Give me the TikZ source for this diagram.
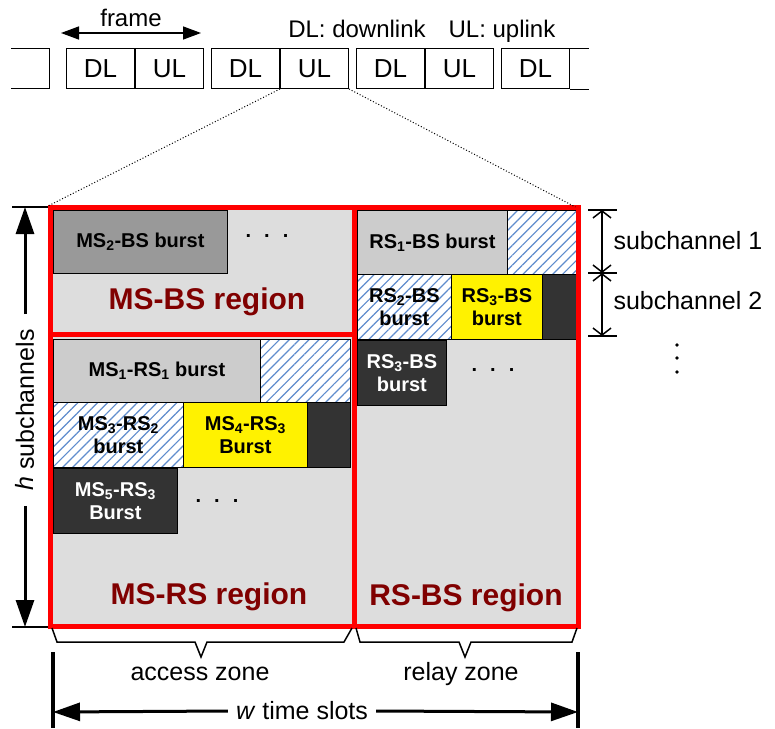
\documentclass[tikz,border=0pt]{standalone}
\usepackage{fontspec}
\setmainfont{Liberation Sans}
\usetikzlibrary{arrows.meta,patterns.meta}

\definecolor{regiongray}{HTML}{DDDDDD}
\definecolor{lightburst}{HTML}{CCCCCC}
\definecolor{midburst}{HTML}{999999}
\definecolor{darkburst}{HTML}{333333}
\definecolor{hatchblue}{RGB}{95,140,205}
\definecolor{regionred}{HTML}{800000}

\begin{document}
\begin{tikzpicture}[x=1pt,y=-1pt]
    \tikzstyle{cell}=[draw,line width=1pt,minimum width=68pt,minimum height=40pt,anchor=north west,inner sep=0pt,font=\fontsize{26}{28}\selectfont]
    \tikzstyle{region}=[fill=regiongray,anchor=north west,inner sep=0pt]
    \tikzstyle{redline}=[draw=red,line width=5pt]
    \tikzstyle{burst}=[draw=black,line width=0.8pt,anchor=north west,inner sep=0pt,align=center,font=\bfseries\fontsize{20}{23}\selectfont]
    \tikzstyle{light burst}=[burst,fill=lightburst]
    \tikzstyle{mid burst}=[burst,fill=midburst]
    \tikzstyle{dark burst}=[burst,fill=darkburst,text=white]
    \tikzstyle{yellow burst}=[burst,fill=yellow]
    \tikzstyle{hatch burst}=[burst,preaction={fill=white},pattern={Lines[angle=45,distance=7pt,line width=1.2pt]},pattern color=hatchblue]
    \tikzstyle{regionlabel}=[text=regionred,font=\bfseries\fontsize{30}{32}\selectfont]
    \tikzstyle{dots}=[font=\bfseries\fontsize{20}{23}\selectfont]
    \tikzstyle{vdot}=[circle,fill=black,inner sep=0pt,minimum size=3.6pt]
    \tikzstyle{annot}=[font=\fontsize{25}{27}\selectfont]
    \tikzstyle{bigarrow}=[line width=3pt,-{Triangle[length=27pt,width=18pt]}]
    \tikzstyle{zonebrace}=[line width=1.5pt,line join=miter]

    \useasboundingbox (0,0) rectangle (775,728);

    % Frame row
    \foreach \i/\x in {1/66,2/211,3/356,4/501}
        \node[cell] (DL-\i) at (\x,48) {DL};
    \foreach \i in {1,2,3}
        \node[cell,anchor=north west] (UL-\i) at (DL-\i.north east) {UL};
    \draw[line width=1pt] (11,48) -- (49,48) -- (49,88) -- (11,88);
    \draw[line width=1pt] (DL-4.north east) -- ++(19,0);
    \draw[line width=1pt] (DL-4.south east) -- ++(19,0);

    \coordinate (fl) at (61,33);
    \coordinate (fr) at (201,33);
    \draw[line width=1.5pt,{Triangle[length=18pt,width=13pt]}-{Triangle[length=18pt,width=13pt]}] (fl) -- (fr);
    \node[font=\fontsize{24}{26}\selectfont,anchor=base] (frame) at (131,26) {frame};
    \node[font=\fontsize{24}{26}\selectfont,anchor=base] (dlkey) at (357,37) {DL: downlink};
    \node[font=\fontsize{24}{26}\selectfont,anchor=base] (ulkey) at (502,37) {UL: uplink};

    % Regions
    \node[region,minimum width=304pt,minimum height=127pt] (msbs) at (50,207) {};
    \node[region,minimum width=304pt,minimum height=292pt] (msrs) at (50,334) {};
    \node[region,minimum width=224pt,minimum height=419pt] (rsbs) at (354,207) {};

    % MS-BS bursts
    \node[mid burst,minimum width=174pt,minimum height=63pt] (ms2bs) at (53,210) {MS\textsubscript{2}-BS burst};
    \node[dots] (dots1) at (267,236) {.\hspace{13pt}.\hspace{13pt}.};
    \node[regionlabel] (msbslabel) at (207,302) {MS-BS region};

    % MS-RS bursts
    \node[light burst,minimum width=207pt,minimum height=63pt] (ms1rs1) at (53,339) {MS\textsubscript{1}-RS\textsubscript{1} burst};
    \node[hatch burst,minimum width=90pt,minimum height=63pt] (hatch1) at (260,339) {};
    \node[hatch burst,minimum width=130pt,minimum height=65pt] (ms3rs2) at (53,402) {MS\textsubscript{3}-RS\textsubscript{2}\\burst};
    \node[yellow burst,minimum width=124pt,minimum height=65pt] (ms4rs3) at (183,402) {MS\textsubscript{4}-RS\textsubscript{3}\\Burst};
    \node[dark burst,minimum width=43pt,minimum height=65pt] (dark1) at (307,402) {};
    \node[dark burst,minimum width=124pt,minimum height=65pt] (ms5rs3) at (53,468) {MS\textsubscript{5}-RS\textsubscript{3}\\Burst};
    \node[dots] (dots2) at (217,501) {.\hspace{13pt}.\hspace{13pt}.};
    \node[regionlabel] (msrslabel) at (209,597) {MS-RS region};

    % RS-BS bursts
    \node[light burst,minimum width=150pt,minimum height=64pt] (rs1bs) at (357,210) {RS\textsubscript{1}-BS burst};
    \node[hatch burst,minimum width=72pt,minimum height=64pt] (hatch2) at (507,210) {};
    \node[hatch burst,minimum width=94pt,minimum height=65pt] (rs2bs) at (357,274) {RS\textsubscript{2}-BS\\burst};
    \node[yellow burst,minimum width=91pt,minimum height=65pt] (rs3bs) at (451,274) {RS\textsubscript{3}-BS\\burst};
    \node[dark burst,minimum width=37pt,minimum height=65pt] (dark2) at (542,274) {};
    \node[dark burst,minimum width=89pt,minimum height=65pt] (rs3bsb) at (357,340) {RS\textsubscript{3}-BS\\burst};
    \node[dots] (dots3) at (493,370) {.\hspace{13pt}.\hspace{13pt}.};
    \node[regionlabel] (rsbslabel) at (466,598) {RS-BS region};

    % Region borders
    \foreach \r in {msbs,msrs,rsbs}
        \draw[redline] (\r.north west) rectangle (\r.south east);

    % Zoom lines
    \draw[dotted,line width=1pt] (UL-2.south west) -- ([xshift=-4pt]msbs.north west);
    \draw[dotted,line width=1pt] (UL-2.south east) -- ([xshift=-3pt]rsbs.north east);

    % Subchannels
    \coordinate (sc0) at (602,210);
    \coordinate (sc1) at (602,273);
    \coordinate (sc2) at (602,336);
    \foreach \c in {sc0,sc1,sc2}
        \draw[line width=1.5pt] ([xshift=-14pt]\c) -- ([xshift=15pt]\c);
    \draw[line width=1.5pt,{Straight Barb[length=7pt,width=18pt]}-{Straight Barb[length=7pt,width=18pt]}] (sc0) -- (sc1);
    \draw[line width=1.5pt,{Straight Barb[length=7pt,width=18pt]}-{Straight Barb[length=7pt,width=18pt]}] (sc1) -- (sc2);
    \node[annot,anchor=west] (sub1) at (610,241) {subchannel 1};
    \node[annot,anchor=west] (sub2) at (610,301) {subchannel 2};
    \foreach \n/\y in {1/345,2/358,3/372}
        \node[vdot] (vdot-\n) at (677,\y) {};

    % h subchannels
    \coordinate (htop) at (25,207);
    \coordinate (hbot) at (25,627);
    \draw[line width=2.5pt] ([xshift=-13pt]htop) -- ([xshift=23pt]htop);
    \draw[line width=2.5pt] ([xshift=-13pt]hbot) -- ([xshift=23pt]hbot);
    \node[annot,rotate=90,inner xsep=15pt] (hlabel) at (25,410) {\textit{h} subchannels};
    \draw[bigarrow] (hlabel.east) -- (htop);
    \draw[bigarrow] (hlabel.west) -- (hbot);

    % Zones
    \draw[zonebrace] (52,628) -- (57,642) -- (195,642) -- (201,657) -- (207,642) -- (344,642) -- (352,628);
    \draw[zonebrace] (356,628) -- (360,642) -- (459,642) -- (465,657) -- (471,642) -- (572,642) -- (577,628);
    \node[annot] (access) at (200,674) {access zone};
    \node[annot] (relay) at (461,674) {relay zone};

    % w time slots
    \coordinate (wleft) at (53,712);
    \coordinate (wright) at (578,712);
    \draw[line width=3.5pt] (53,652) -- (53,728);
    \draw[line width=3.5pt] (578,652) -- (578,728);
    \node[annot,inner xsep=8pt] (wlabel) at (302,711) {\textit{w} time slots};
    \draw[bigarrow] (wlabel.west) -- (wleft);
    \draw[bigarrow] (wlabel.east) -- (wright);
\end{tikzpicture}
\end{document}
